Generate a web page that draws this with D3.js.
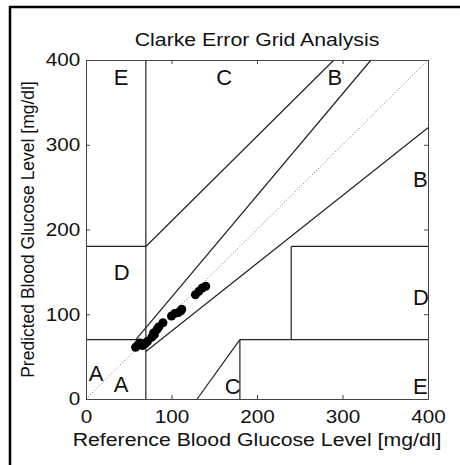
<!DOCTYPE html>
<html>
<head>
<meta charset="utf-8">
<script src="https://cdn.jsdelivr.net/npm/d3@7"></script>
<style>
  body { margin: 0; background: #fff; }
  svg { display: block; font-family: "Liberation Sans", Arial, sans-serif; }
</style>
</head>
<body>
<svg id="chart"></svg>
<script>
var width = 460;
var height = 465;

// measurements: reference vs predicted (mg/dl)
var refValues  = [58, 61, 63, 66, 69, 72, 77, 79, 80, 83, 85, 90, 100, 104, 108, 111, 112, 128, 132, 136, 140];
var predValues = [61, 64, 66, 63, 65, 68, 73, 78, 76, 82, 85, 90,  98, 101, 102, 104, 106, 123, 127, 131, 133];

var tickValues = [0, 100, 200, 300, 400];

// zone boundaries [x1, y1, x2, y2]
var zoneLines = [
  [0, 70, 70, 70],
  [175 / 3, 70, 400 / 1.2, 400],
  [70, 0, 70, 400],
  [0, 180, 70, 180],
  [70, 180, 290, 400],
  [70, 56, 400, 320],
  [180, 0, 180, 70],
  [180, 70, 400, 70],
  [240, 70, 240, 180],
  [240, 180, 400, 180],
  [130, 0, 180, 70]
];

var zoneNames = ["A", "A", "B", "B", "C", "C", "D", "D", "E", "E"];
var zoneX     = [1, 30, 280, 380, 150, 160, 30, 380, 30, 380];
var zoneY     = [30, 18, 380, 260, 380, 15, 150, 120, 380, 15];

// the source figure is slightly stretched sideways
var stretch = 1.15;

var x = d3.scaleLinear().domain([0, 400]).range([86, 428]);
var y = d3.scaleLinear().domain([0, 400]).range([399, 60]);

var svg = d3.select("#chart").attr("width", width).attr("height", height);

// outer frame (cropped figure border)
svg.append("path")
    .attr("d", "M10," + height + "V7H" + width)
    .attr("fill", "none")
    .attr("stroke", "#000")
    .attr("stroke-width", 2.5);

var plot = svg.append("g");

// identity diagonal
plot.append("line")
    .attr("x1", x(0)).attr("y1", y(0))
    .attr("x2", x(400)).attr("y2", y(400))
    .attr("stroke", "#777")
    .attr("stroke-width", 1)
    .attr("stroke-dasharray", "1,2");

plot.selectAll(".zone")
    .data(zoneLines)
  .enter().append("line")
    .attr("class", "zone")
    .attr("x1", function(d) { return x(d[0]); })
    .attr("y1", function(d) { return y(d[1]); })
    .attr("x2", function(d) { return x(d[2]); })
    .attr("y2", function(d) { return y(d[3]); })
    .attr("stroke", "#222")
    .attr("stroke-width", 1.2);

plot.selectAll(".zlabel")
    .data(zoneNames)
  .enter().append("text")
    .attr("class", "zlabel")
    .attr("x", function(d, i) { return x(zoneX[i]) + 2; })
    .attr("y", function(d, i) { return y(zoneY[i]); })
    .attr("dy", "0.36em")
    .attr("font-size", 22)
    .attr("fill", "#111")
    .text(function(d) { return d; });

plot.selectAll(".pt")
    .data(refValues)
  .enter().append("circle")
    .attr("class", "pt")
    .attr("cx", function(d) { return x(d); })
    .attr("cy", function(d, i) { return y(predValues[i]); })
    .attr("r", 4.5)
    .attr("fill", "#000");

// axes with inward ticks
function styleAxis(g) {
  g.select(".domain").attr("stroke", "#444");
  g.selectAll(".tick line").attr("stroke", "#444");
  g.selectAll(".tick text").attr("font-size", 18).attr("fill", "#111")
      .attr("font-family", "Liberation Sans, Arial, sans-serif")
      .attr("transform", "scale(" + stretch + ",1)");
}

svg.append("g")
    .attr("transform", "translate(0," + y(0) + ")")
    .call(d3.axisBottom(x).tickValues(tickValues).tickSizeInner(-4).tickSizeOuter(0).tickPadding(11))
    .call(styleAxis);

svg.append("g")
    .attr("transform", "translate(0," + y(400) + ")")
    .call(d3.axisTop(x).tickValues(tickValues).tickSizeInner(-4).tickSizeOuter(0).tickFormat(""))
    .call(styleAxis);

svg.append("g")
    .attr("transform", "translate(" + x(0) + ",0)")
    .call(d3.axisLeft(y).tickValues(tickValues).tickSizeInner(-4).tickSizeOuter(0).tickPadding(5))
    .call(styleAxis);

svg.append("g")
    .attr("transform", "translate(" + x(400) + ",0)")
    .call(d3.axisRight(y).tickValues(tickValues).tickSizeInner(-4).tickSizeOuter(0).tickFormat(""))
    .call(styleAxis);

svg.append("text")
    .attr("transform", "translate(" + (x(0) + x(400)) / 2 + ",46) scale(" + stretch + ",1)")
    .attr("text-anchor", "middle")
    .attr("font-size", 18.5)
    .attr("fill", "#111")
    .text("Clarke Error Grid Analysis");

svg.append("text")
    .attr("transform", "translate(" + (x(0) + x(400)) / 2 + ",446) scale(" + stretch + ",1)")
    .attr("text-anchor", "middle")
    .attr("font-size", 18.5)
    .attr("fill", "#111")
    .text("Reference Blood Glucose Level [mg/dl]");

svg.append("text")
    .attr("transform", "translate(34," + (y(0) + y(400)) / 2 + ") rotate(-90)")
    .attr("text-anchor", "middle")
    .attr("font-size", 17.5)
    .attr("fill", "#111")
    .text("Predicted Blood Glucose Level [mg/dl]");
</script>
</body>
</html>
